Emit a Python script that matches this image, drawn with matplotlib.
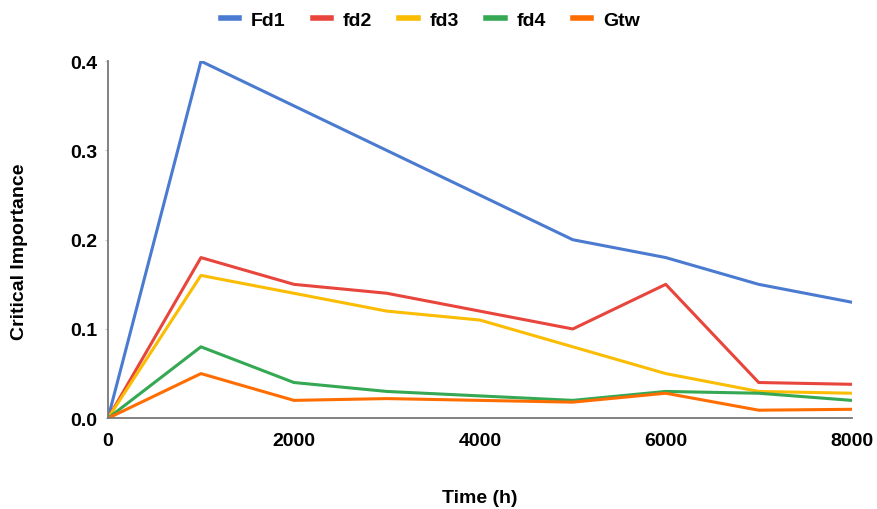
import matplotlib
matplotlib.use("Agg")
import matplotlib.pyplot as plt

plt.rcParams['font.family'] = ['Liberation Sans', 'DejaVu Sans']

hours = [0, 1000, 2000, 3000, 4000, 5000, 6000, 7000, 8000]
fd1 = [0, 0.40, 0.35, 0.30, 0.25, 0.20, 0.18, 0.15, 0.13]
fd2 = [0, 0.18, 0.15, 0.14, 0.12, 0.10, 0.15, 0.04, 0.038]
fd3 = [0, 0.16, 0.14, 0.12, 0.11, 0.08, 0.05, 0.03, 0.028]
fd4 = [0, 0.08, 0.04, 0.03, 0.025, 0.02, 0.03, 0.028, 0.02]
gtw = [0, 0.05, 0.02, 0.022, 0.02, 0.018, 0.028, 0.009, 0.01]

series_names = ['Fd1', 'fd2', 'fd3', 'fd4', 'Gtw']
series_values = [fd1, fd2, fd3, fd4, gtw]
colors = ['#4a7bd0', '#e8453c', '#fbbc04', '#34a853', '#ff6d01']

x_ticks = [0, 2000, 4000, 6000, 8000]
y_ticks = [0.0, 0.1, 0.2, 0.3, 0.4]

FS = 14

fig = plt.figure(figsize=(8.78, 5.10), dpi=100)
ax = fig.add_axes([0.123, 0.178, 0.847, 0.700])

for name, vals, c in zip(series_names, series_values, colors):
    ax.plot(hours, vals, color=c, linewidth=2.2, label=name)

ax.set_xlim(0, 8000)
ax.set_ylim(0, 0.4)
ax.set_xticks(x_ticks)
ax.set_xticklabels([str(t) for t in x_ticks], fontsize=FS, fontweight='bold')
ax.set_yticks(y_ticks)
ax.set_yticklabels([f"{t:.1f}" for t in y_ticks], fontsize=FS, fontweight='bold')
ax.tick_params(axis='x', length=0, pad=10)
ax.tick_params(axis='y', length=2, color='#cccccc', pad=6)

for side in ['top', 'right']:
    ax.spines[side].set_visible(False)
for side in ['left', 'bottom']:
    ax.spines[side].set_color('#777777')
    ax.spines[side].set_linewidth(1.3)

ax.set_xlabel('Time (h)', fontsize=FS, fontweight='bold', labelpad=29)
ax.set_ylabel('Critical Importance', fontsize=FS, fontweight='bold')
ax.yaxis.set_label_coords(-0.1075, 0.47)

fig.legend(loc='center', bbox_to_anchor=(0.49, 1 - 21 / 510), ncol=5, frameon=False,
           prop={'size': FS, 'weight': 'bold'}, handlelength=0.95, handletextpad=0.6,
           columnspacing=1.4)
for line in fig.legends[0].get_lines():
    line.set_linewidth(4)

fig.savefig('out.png', dpi=100, facecolor='white')
